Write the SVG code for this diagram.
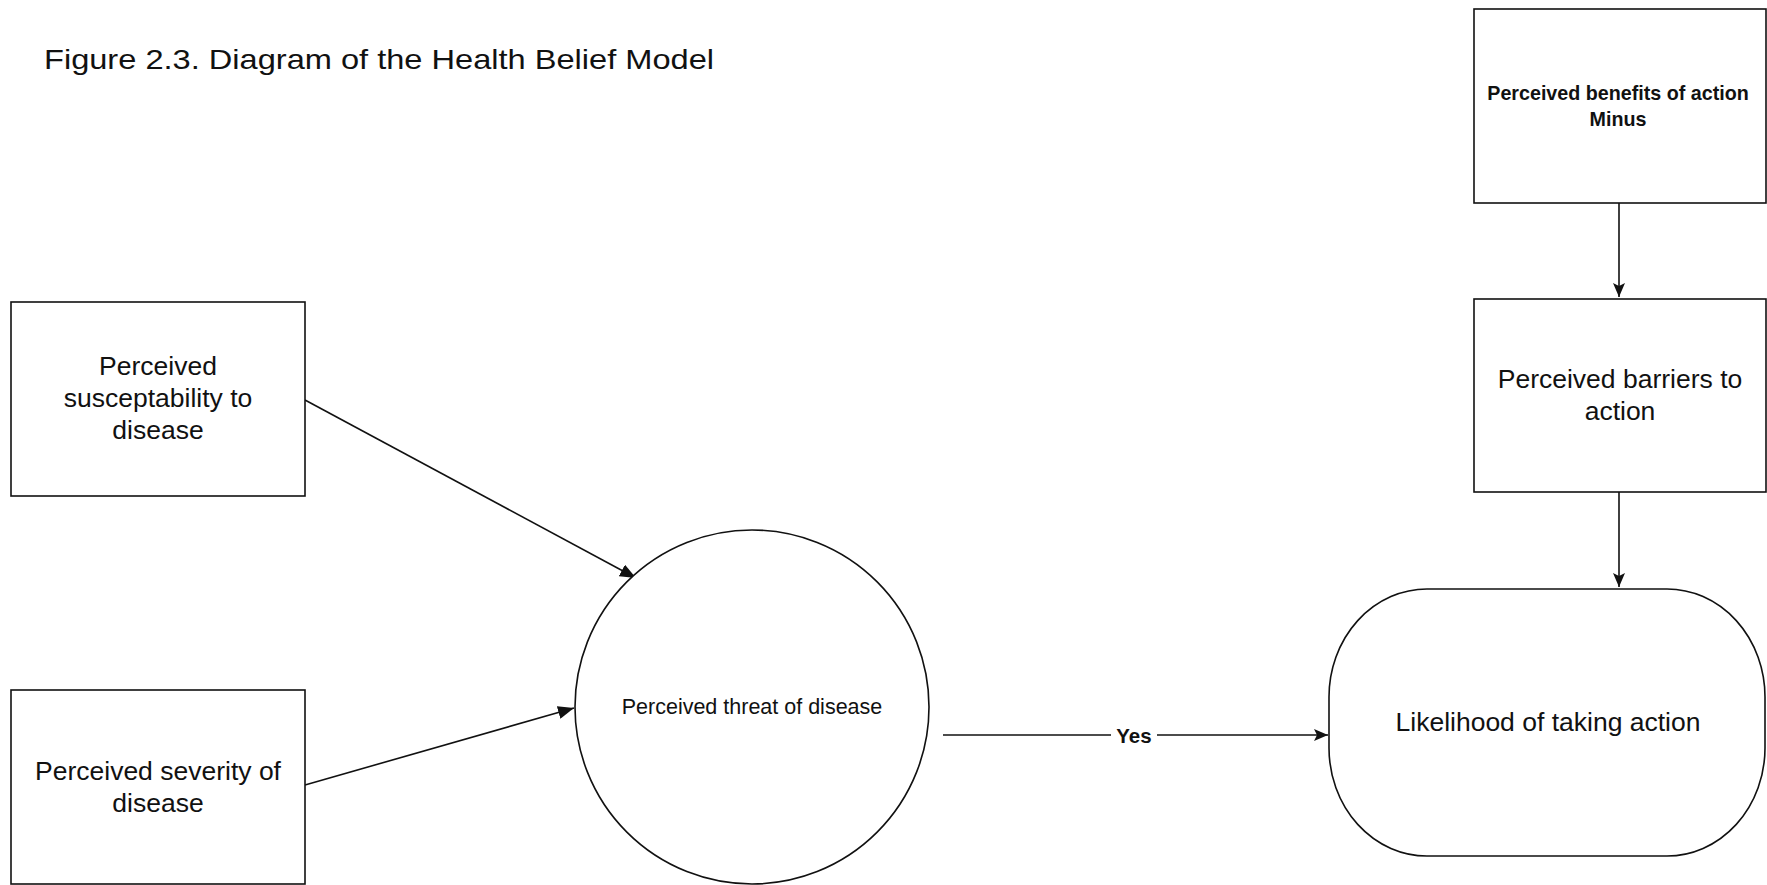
<svg xmlns="http://www.w3.org/2000/svg" width="1767" height="885" viewBox="0 0 1767 885">
<style>
.bg{fill:#ffffff}
.box{fill:#ffffff;stroke:#111111;stroke-width:1.6}
.conn{fill:none;stroke:#111111;stroke-width:1.6}
.t{font-family:"Liberation Sans",Arial,sans-serif;fill:#111111;text-anchor:middle}
.lg{font-size:26.5px}
.md{font-size:21.5px}
.bd{font-size:19.7px;font-weight:bold}
.title{font-family:"Liberation Sans",Arial,sans-serif;font-size:28.5px;fill:#111111}
</style>
<defs>
<marker id="big" markerUnits="userSpaceOnUse" markerWidth="17" markerHeight="13" refX="16" refY="6.5" orient="auto">
<path d="M0,0 L16,6.5 L0,13 z" fill="#111111"/>
</marker>
<marker id="small" markerUnits="userSpaceOnUse" markerWidth="15" markerHeight="12" refX="14" refY="6" orient="auto">
<path d="M0,0 L14,6 L0,12 L3,6 z" fill="#111111"/>
</marker>
</defs>
<rect class="bg" x="0" y="0" width="1767" height="885"/>
<text class="title" x="44" y="69" textLength="670" lengthAdjust="spacingAndGlyphs">Figure 2.3. Diagram of the Health Belief Model</text>

<g id="connectors">
<line class="conn" x1="305" y1="400" x2="636" y2="578" marker-end="url(#big)"/>
<line class="conn" x1="305" y1="785" x2="574" y2="708" marker-end="url(#big)"/>
<line class="conn" x1="943" y1="735" x2="1111" y2="735"/>
<line class="conn" x1="1157" y1="735" x2="1328" y2="735" marker-end="url(#small)"/>
<text class="t" x="1134" y="743" style="font-size:20.5px;font-weight:bold">Yes</text>
<line class="conn" x1="1619" y1="203" x2="1619" y2="297" marker-end="url(#small)"/>
<line class="conn" x1="1619" y1="492" x2="1619" y2="587" marker-end="url(#small)"/>
</g>

<g id="node-susceptibility">
<rect class="box" x="11" y="302" width="294" height="194"/>
<text class="t lg" x="158" y="375">Perceived</text>
<text class="t lg" x="158" y="407">susceptability to</text>
<text class="t lg" x="158" y="439">disease</text>
</g>

<g id="node-severity">
<rect class="box" x="11" y="690" width="294" height="194"/>
<text class="t lg" x="158" y="780">Perceived severity of</text>
<text class="t lg" x="158" y="812">disease</text>
</g>

<g id="node-threat">
<circle class="box" cx="752" cy="707" r="177"/>
<text class="t md" x="752" y="714">Perceived threat of disease</text>
</g>

<g id="node-benefits">
<rect class="box" x="1474" y="9" width="292" height="194"/>
<text class="t bd" x="1618" y="100">Perceived benefits of action</text>
<text class="t bd" x="1618" y="126">Minus</text>
</g>

<g id="node-barriers">
<rect class="box" x="1474" y="299" width="292" height="193"/>
<text class="t lg" x="1620" y="388">Perceived barriers to</text>
<text class="t lg" x="1620" y="420">action</text>
</g>

<g id="node-likelihood">
<rect class="box" x="1329" y="589" width="436" height="267" rx="98" ry="108"/>
<text class="t lg" x="1548" y="731">Likelihood of taking action</text>
</g>
</svg>
